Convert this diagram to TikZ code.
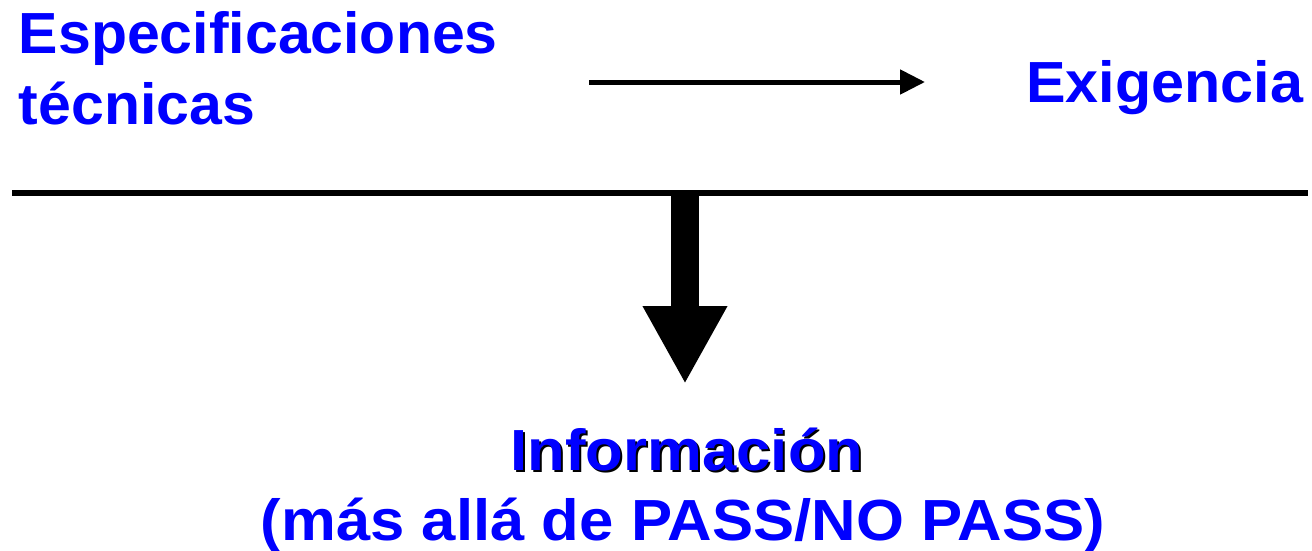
\documentclass[tikz,border=0pt]{standalone}
\usepackage{fontspec}
\setmainfont{Liberation Sans}
\usetikzlibrary{arrows.meta}
\definecolor{txtblue}{RGB}{0,0,255}
\tikzset{
  lbl/.style={inner sep=0pt, outer sep=0pt, text=txtblue, font=\fontsize{58}{60}\selectfont\bfseries},
  shadowlbl/.style={lbl, text=black},
  thinarrow/.style={line width=5pt, -{Triangle[length=25pt,width=24pt]}},
  fatarrow/.style={line width=28pt, -{Triangle[length=78pt,width=79pt]}},
  rule/.style={line width=6pt}
}
\newcommand{\wtop}[1]{\scalebox{1.017}[1]{#1}}
\newcommand{\wbot}[1]{\scalebox{1.063}[1]{#1}}
\begin{document}
\begin{tikzpicture}[x=1pt,y=-1pt]
\useasboundingbox (0,0) rectangle (1312,550);
\node[lbl, anchor=base west] (spec1) at (19,53) {\wtop{Especificaciones}};
\node[lbl, anchor=base west] (spec2) at (19,124) {\wtop{técnicas}};
\node[lbl, anchor=base east] (exig) at (1303,102) {\scalebox{1.022}[1]{Exigencia}};
\coordinate (a1) at (589,82);
\coordinate (a2) at (925,82);
\draw[thinarrow] (a1) -- (a2);
\coordinate (lL) at (12,193);
\coordinate (lR) at (1308,193);
\draw[rule] (lL) -- (lR);
\coordinate (b1) at (685,196);
\coordinate (b2) at (685,384);
\draw[fatarrow] (b1) -- (b2);
\node[shadowlbl, anchor=base] (infosh) at (689,472) {\wbot{Información}};
\node[lbl, anchor=base] (info) at (687,470) {\wbot{Información}};
\node[lbl, anchor=base] (pass) at (683,540) {\wbot{(más allá de PASS/NO PASS)}};
\end{tikzpicture}
\end{document}
